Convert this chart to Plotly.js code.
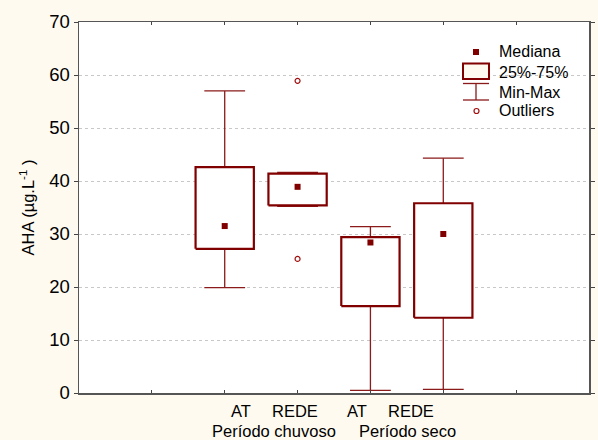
<!DOCTYPE html>
<html>
<head>
<meta charset="utf-8">
<script src="https://cdn.plot.ly/plotly-3.0.1.min.js"></script>
<style>
  html, body { margin: 0; padding: 0; background: #FFFAF0; }
  #chart { width: 598px; height: 440px; }
</style>
</head>
<body>
<div id="chart"></div>
<script>
// AHA concentration by sampling point and season
const groupLabels  = ['AT', 'REDE', 'AT', 'REDE'];
const periodLabels = ['Período chuvoso', 'Período seco'];
const positions    = [2, 3, 4, 5];

const minVals    = [19.9, 35.2, 0.5, 0.7];
const q1Vals     = [27.2, 35.4, 16.4, 14.2];
const medianVals = [31.5, 38.9, 28.4, 30.0];
const q3Vals     = [42.6, 41.4, 29.4, 35.8];
const maxVals    = [57.0, 41.6, 31.4, 44.3];

const outlierX = [3, 3];
const outlierY = [58.9, 25.3];

const legendLabels = ['Mediana', '25%-75%', 'Min-Max', 'Outliers'];

const RED = '#800000';
const BG = '#FFFAF0';
const boxHalf = 0.4;
const capHalf = 0.28;

// boxes (q1..q3 rectangles) and whiskers (min..q1, q3..max with caps)
const bx = [], by = [], wx = [], wy = [];
positions.forEach((p, i) => {
  bx.push(p - boxHalf, p + boxHalf, p + boxHalf, p - boxHalf, p - boxHalf, null);
  by.push(q1Vals[i], q1Vals[i], q3Vals[i], q3Vals[i], q1Vals[i], null);

  wx.push(p, p, null, p, p, null,
          p - capHalf, p + capHalf, null, p - capHalf, p + capHalf, null);
  wy.push(q3Vals[i], maxVals[i], null, q1Vals[i], minVals[i], null,
          maxVals[i], maxVals[i], null, minVals[i], minVals[i], null);
});

const traces = [
  { type: 'scatter', mode: 'lines', x: wx, y: wy, connectgaps: false,
    line: { color: '#8B1A1A', width: 1.3 }, hoverinfo: 'skip', showlegend: false },
  { type: 'scatter', mode: 'lines', x: bx, y: by, connectgaps: false,
    fill: 'toself', fillcolor: '#FFFFFF',
    line: { color: RED, width: 2.2 }, hoverinfo: 'skip', showlegend: false },
  { type: 'scatter', mode: 'markers', x: positions, y: medianVals,
    marker: { symbol: 'square', size: 6, color: RED }, showlegend: false },
  { type: 'scatter', mode: 'markers', x: outlierX, y: outlierY,
    marker: { symbol: 'circle-open', size: 5, color: '#A01010', line: { width: 1.2 } },
    showlegend: false }
];

// pixel helpers for the hand-drawn key inside the plot area
const L = 79, R = 589, T = 22, B = 393;
const px = v => (v - L) / (R - L);
const py = v => (B - v) / (B - T);

const shapes = [
  { type: 'rect', xref: 'paper', yref: 'paper', x0: px(473), x1: px(479), y0: py(55), y1: py(49),
    fillcolor: RED, line: { width: 0 } },
  { type: 'rect', xref: 'paper', yref: 'paper', x0: px(463), x1: px(489), y0: py(79), y1: py(63.5),
    fillcolor: BG, line: { color: RED, width: 2 } },
  { type: 'line', xref: 'paper', yref: 'paper', x0: px(463), x1: px(489), y0: py(83.5), y1: py(83.5),
    line: { color: '#8B1A1A', width: 1.3 } },
  { type: 'line', xref: 'paper', yref: 'paper', x0: px(463), x1: px(489), y0: py(100), y1: py(100),
    line: { color: '#8B1A1A', width: 1.3 } },
  { type: 'line', xref: 'paper', yref: 'paper', x0: px(476), x1: px(476), y0: py(83.5), y1: py(100),
    line: { color: '#8B1A1A', width: 1.3 } },
  { type: 'circle', xref: 'paper', yref: 'paper', x0: px(474), x1: px(479), y0: py(113.5), y1: py(108.5),
    line: { color: '#A01010', width: 1.2 } }
];

const font = { family: 'Liberation Sans, Arial, sans-serif', color: '#000000' };
const annotations = [];
const legendY = [52, 72, 92.5, 111];
legendLabels.forEach((t, i) => annotations.push({
  xref: 'paper', yref: 'paper', x: px(497), y: py(legendY[i]),
  xanchor: 'left', yanchor: 'middle', showarrow: false, text: t,
  font: Object.assign({ size: 16 }, font)
}));

// category labels under the axis
const groupX = [2.23, 2.97, 3.81, 4.55];
groupLabels.forEach((t, i) => annotations.push({
  xref: 'x', yref: 'paper', x: groupX[i], y: py(411),
  xanchor: 'center', yanchor: 'middle', showarrow: false, text: t,
  font: Object.assign({ size: 16.5 }, font)
}));
const periodX = [2.67, 4.51];
periodLabels.forEach((t, i) => annotations.push({
  xref: 'x', yref: 'paper', x: periodX[i], y: py(431),
  xanchor: 'center', yanchor: 'middle', showarrow: false, text: t,
  font: Object.assign({ size: 16.5 }, font)
}));

const layout = {
  width: 598, height: 440,
  margin: { l: L, r: 598 - R, t: T, b: 440 - B, pad: 0 },
  paper_bgcolor: BG,
  plot_bgcolor: '#FFFFFF',
  showlegend: false,
  font: font,
  xaxis: {
    range: [0, 7], tickvals: [1, 2, 3, 4, 5, 6], showticklabels: false,
    ticks: 'inside', ticklen: 3, tickcolor: '#444',
    showgrid: false, zeroline: false,
    showline: true, linecolor: '#555', linewidth: 1.5, mirror: 'ticks'
  },
  yaxis: {
    range: [0, 70], tickvals: [0, 10, 20, 30, 40, 50, 60, 70],
    ticks: 'outside', ticklen: 4, tickcolor: '#444',
    tickfont: Object.assign({ size: 18.5 }, font),
    showgrid: true, gridcolor: '#C8C8C8', griddash: 'dot', gridwidth: 1,
    zeroline: false,
    showline: true, linecolor: '#555', linewidth: 1.5, mirror: 'ticks',
    title: { text: 'AHA (µg.L<sup>-1</sup> )', standoff: 10,
             font: Object.assign({ size: 16.5 }, font) }
  },
  shapes: shapes,
  annotations: annotations
};

Plotly.newPlot('chart', traces, layout, { staticPlot: true, displayModeBar: false });
</script>
</body>
</html>
